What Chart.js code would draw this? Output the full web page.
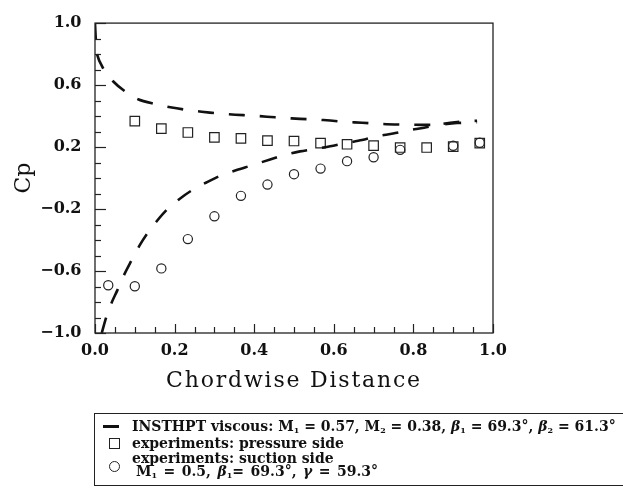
<!DOCTYPE html>
<html><head><meta charset="utf-8">
<script src="https://cdn.jsdelivr.net/npm/chart.js@4/dist/chart.umd.min.js"></script>
<style>
html,body{margin:0;padding:0;background:#fff;}
#wrap{position:relative;width:623px;height:488px;overflow:hidden;background:#fff;}
#c{position:absolute;left:0;top:0;}
#legend{position:absolute;left:94px;top:413px;width:560px;height:71px;border:1.4px solid #222;border-right:none;font:bold 14px "DejaVu Serif",serif;color:#111;}
.row{position:absolute;left:37px;white-space:pre;line-height:15px;}
.row sub{font-size:8px;vertical-align:-2px;line-height:0;}
.row i{font-style:italic;}
.sym{position:absolute;}
</style></head><body>
<div id="wrap"><canvas id="c" width="623" height="488"></canvas>
<div id="legend">
  <div class="sym" style="left:8px;top:11px;width:16px;height:3px;background:#111;"></div>
  <div class="sym" style="left:14px;top:24px;width:9px;height:9px;border:1.2px solid #222;"></div>
  <div class="sym" style="left:14px;top:47px;width:9px;height:9px;border:1.2px solid #222;border-radius:50%;"></div>
  <div class="row" style="top:5px;">INSTHPT viscous: M<sub>1</sub> = 0.57, M<sub>2</sub> = 0.38, <i>β</i><sub>1</sub> = 69.3°, <i>β</i><sub>2</sub> = 61.3°</div>
  <div class="row" style="top:22px;">experiments: pressure side</div>
  <div class="row" style="top:37px;">experiments: suction side</div>
  <div class="row" style="top:50px;left:41px;word-spacing:1.6px;">M<sub>1</sub> = 0.5, <i>β</i><sub>1</sub>= 69.3°, <i>γ</i> = 59.3°</div>
</div>
</div>
<script>
// ---- data ----
const xTicks = [0.0, 0.2, 0.4, 0.6, 0.8, 1.0];
const yTicks = [-1.0, -0.6, -0.2, 0.2, 0.6, 1.0];

const pressureX  = [0.1, 0.1667, 0.2333, 0.3, 0.3667, 0.4333, 0.5, 0.5667, 0.6333, 0.7, 0.7667, 0.8333, 0.9, 0.9667];
const pressureCp = [0.367, 0.319, 0.294, 0.262, 0.256, 0.241, 0.239, 0.225, 0.218, 0.209, 0.197, 0.197, 0.203, 0.225];

const suctionX  = [0.0333, 0.1, 0.1667, 0.2333, 0.3, 0.3667, 0.4333, 0.5, 0.5667, 0.6333, 0.7, 0.7667, 0.9, 0.9667];
const suctionCp = [-0.692, -0.698, -0.583, -0.394, -0.247, -0.115, -0.042, 0.025, 0.061, 0.109, 0.134, 0.182, 0.208, 0.228];

const upperX  = [0.0, 0.002, 0.005, 0.02, 0.046, 0.075, 0.108, 0.151, 0.193, 0.231, 0.268, 0.309, 0.352, 0.394, 0.432, 0.473, 0.515, 0.557, 0.591, 0.633, 0.671, 0.712, 0.752, 0.792, 0.83, 0.87, 0.91, 0.96];
const upperCp = [1.0, 0.9, 0.8, 0.71, 0.623, 0.56, 0.509, 0.478, 0.455, 0.44, 0.428, 0.417, 0.409, 0.403, 0.396, 0.388, 0.382, 0.377, 0.371, 0.362, 0.357, 0.35, 0.346, 0.345, 0.343, 0.345, 0.355, 0.36];

const lowerX  = [0.017, 0.028, 0.042, 0.056, 0.074, 0.09, 0.111, 0.13, 0.155, 0.18, 0.214, 0.243, 0.281, 0.314, 0.356, 0.394, 0.44, 0.478, 0.515, 0.557, 0.591, 0.629, 0.671, 0.709, 0.749, 0.788, 0.827, 0.874, 0.91, 0.96];
const lowerCp = [-1.0, -0.9, -0.803, -0.725, -0.62, -0.54, -0.44, -0.363, -0.279, -0.206, -0.132, -0.08, -0.027, 0.014, 0.052, 0.082, 0.12, 0.151, 0.172, 0.19, 0.205, 0.225, 0.245, 0.27, 0.287, 0.308, 0.325, 0.35, 0.362, 0.37];

const yMinorStep = 0.1, xMinorStep = 0.05;

const pts = (xs, ys) => xs.map((x, i) => ({x, y: ys[i]}));

const frameTicks = {
  id: 'frameTicks',
  afterDatasetsDraw(chart) {
    const {ctx, chartArea: a, scales: {x, y}} = chart;
    ctx.save();
    ctx.strokeStyle = '#222';
    ctx.lineWidth = 1.3;
    ctx.strokeRect(a.left, a.top, a.right - a.left, a.bottom - a.top);
    ctx.lineWidth = 1.2;
    const nY = Math.round((y.max - y.min) / yMinorStep);
    for (let i = 0; i <= nY; i++) {
      const v = y.min + i * yMinorStep;
      const py = Math.round(y.getPixelForValue(v)) + 0.5;
      const major = yTicks.some(t => Math.abs(t - v) < 1e-6);
      ctx.beginPath(); ctx.moveTo(a.left, py); ctx.lineTo(a.left + (major ? 11 : 6), py); ctx.stroke();
    }
    const nX = Math.round((x.max - x.min) / xMinorStep);
    for (let i = 0; i <= nX; i++) {
      const v = x.min + i * xMinorStep;
      const px = Math.round(x.getPixelForValue(v)) + 0.5;
      const major = xTicks.some(t => Math.abs(t - v) < 1e-6);
      ctx.beginPath(); ctx.moveTo(px, a.bottom); ctx.lineTo(px, a.bottom - (major ? 9 : 6)); ctx.stroke();
    }
    ctx.restore();
  }
};

const fmt = v => (v < 0 ? '\u2212' : '') + Math.abs(v).toFixed(1);

// widen the x-axis title letters like the reference
function spacedTitle(s) {
  if (s._spaced) return;
  const orig = s.drawTitle.bind(s);
  s.drawTitle = function () {
    const c = this.ctx;
    c.save();
    if ('letterSpacing' in c) c.letterSpacing = '1.8px';
    orig();
    c.restore();
  };
  s._spaced = true;
}

new Chart(document.getElementById('c'), {
  type: 'scatter',
  data: {
    datasets: [
      {data: pts(upperX, upperCp), showLine: true, borderColor: '#111', borderWidth: 2.6, borderDash: [16, 15], pointRadius: 0, tension: 0.3, fill: false},
      {data: pts(lowerX, lowerCp), showLine: true, borderColor: '#111', borderWidth: 2.6, borderDash: [16, 15], pointRadius: 0, tension: 0.3, fill: false},
      {data: pts(pressureX, pressureCp), showLine: false, pointStyle: 'rect', pointRadius: 6.7, borderColor: '#222', borderWidth: 1.2, backgroundColor: 'rgba(0,0,0,0)'},
      {data: pts(suctionX, suctionCp), showLine: false, pointStyle: 'circle', pointRadius: 4.6, borderColor: '#222', borderWidth: 1.2, backgroundColor: 'rgba(0,0,0,0)'}
    ]
  },
  options: {
    responsive: false,
    animation: false,
    devicePixelRatio: 1,
    layout: {padding: {left: 0, right: 130, top: 15, bottom: 0}},
    plugins: {legend: {display: false}, tooltip: {enabled: false}},
    scales: {
      x: {
        type: 'linear', min: 0, max: 1,
        afterBuildTicks: s => { s.ticks = xTicks.map(v => ({value: v})); },
        afterFit: s => { s.height = 155; spacedTitle(s); },
        grid: {display: false, drawTicks: false},
        border: {display: false},
        ticks: {padding: 8, color: '#111', font: {family: 'DejaVu Serif', size: 16, weight: 'bold'}, callback: v => fmt(v), maxRotation: 0},
        title: {display: true, text: 'Chordwise Distance', color: '#111', font: {family: 'DejaVu Serif', size: 22}, padding: {top: 0, bottom: 94}}
      },
      y: {
        type: 'linear', min: -1, max: 1,
        afterBuildTicks: s => { s.ticks = yTicks.map(v => ({value: v})); },
        afterFit: s => { s.width = 95; },
        grid: {display: false, drawTicks: false},
        border: {display: false},
        ticks: {padding: 13.5, color: '#111', font: {family: 'DejaVu Serif', size: 16, weight: 'bold'}, callback: v => fmt(v)},
        title: {display: true, text: 'Cp', color: '#111', font: {family: 'DejaVu Serif', size: 22}, padding: {top: 11, bottom: 0}}
      }
    }
  },
  plugins: [frameTicks]
});
</script>
</body></html>
